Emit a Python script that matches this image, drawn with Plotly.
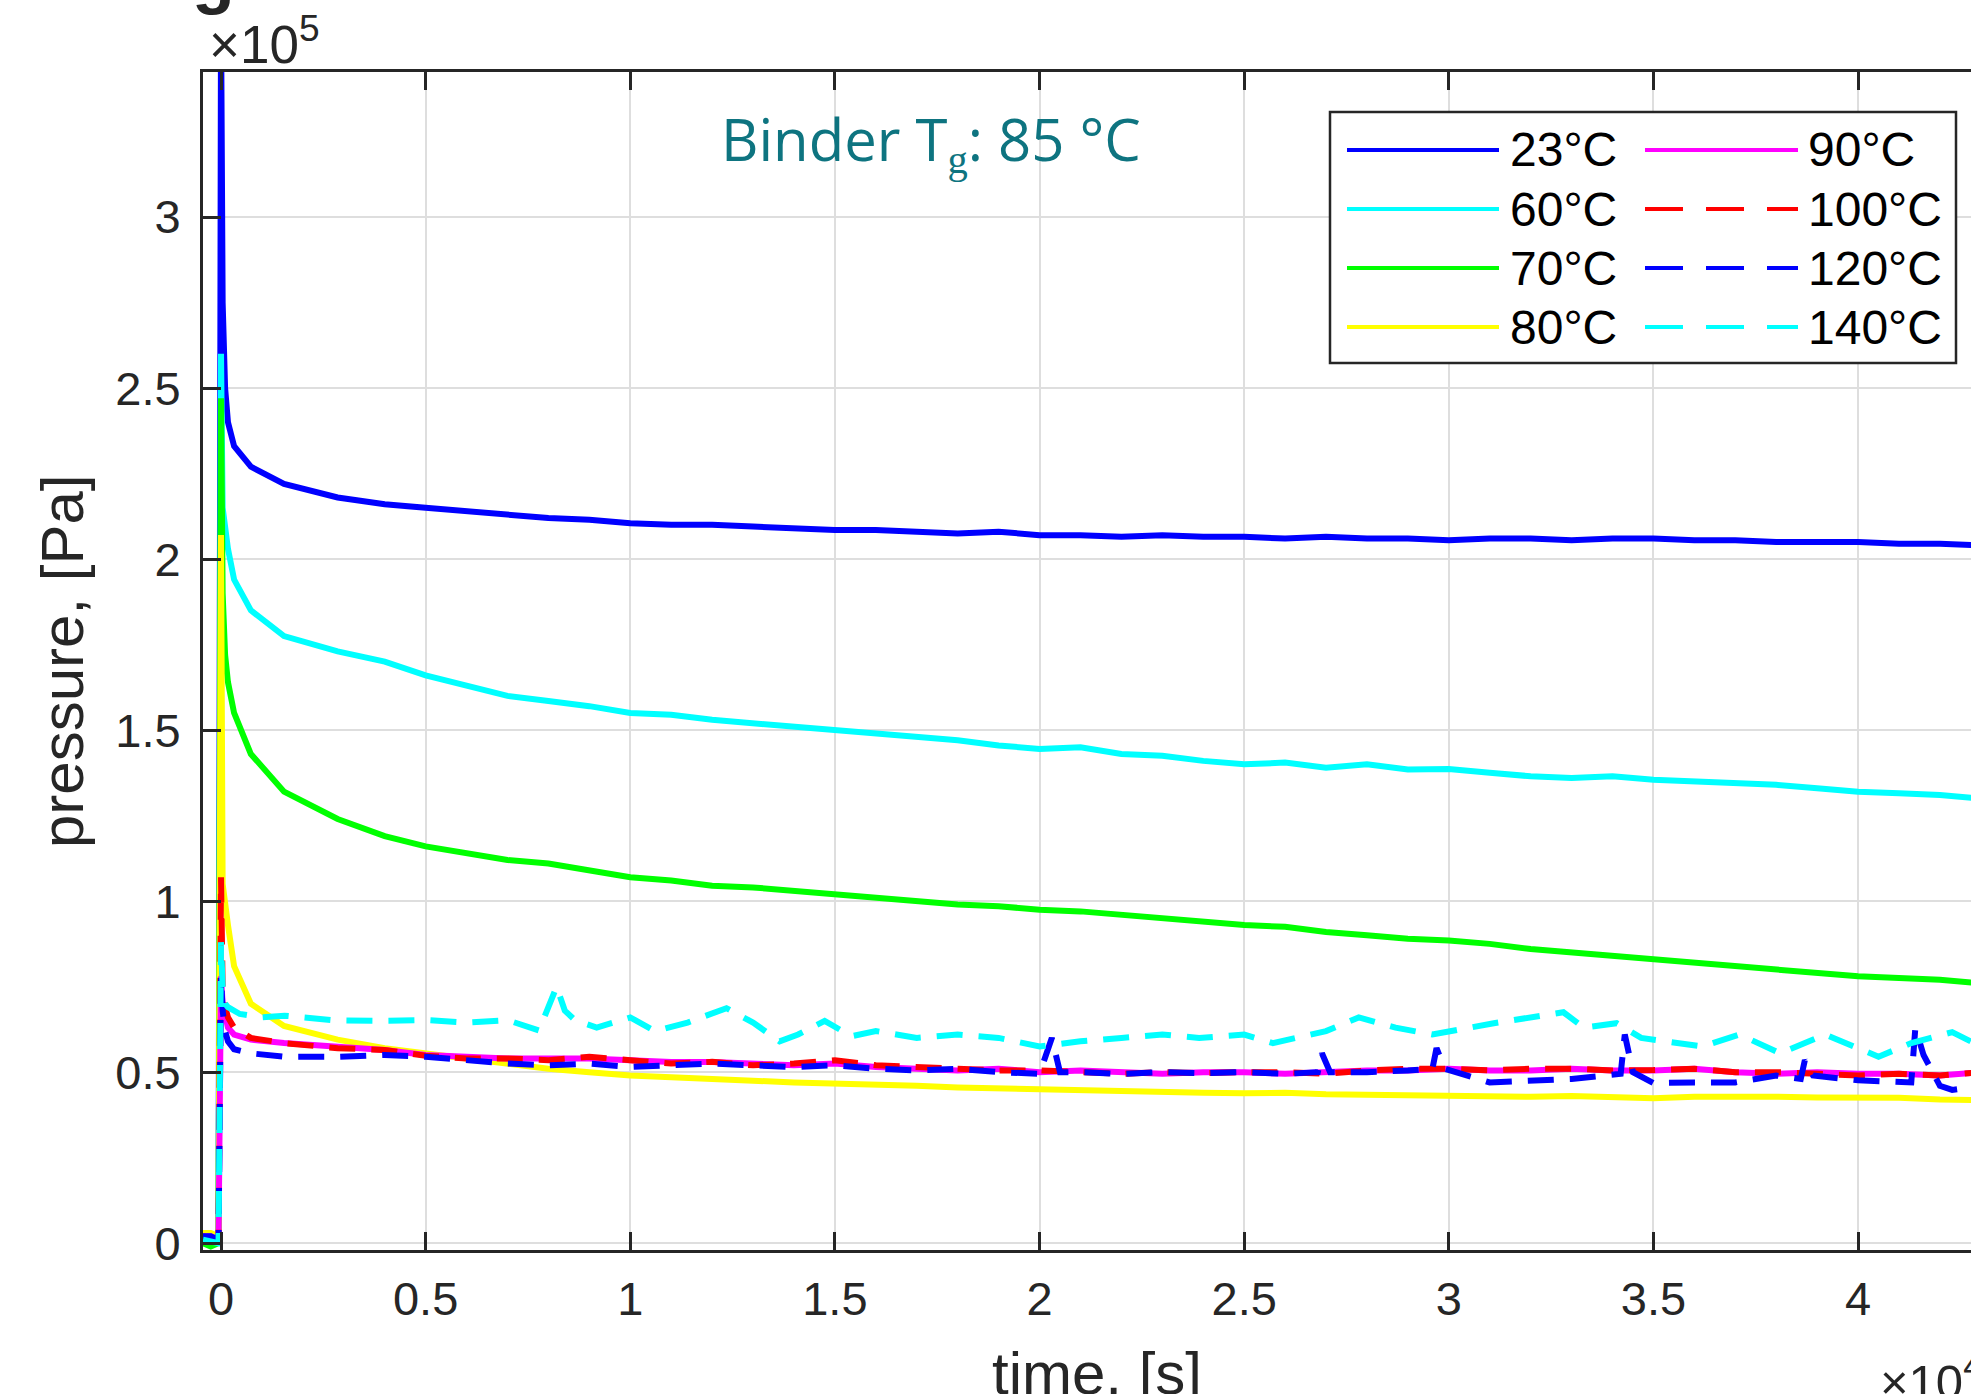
import plotly.graph_objects as go

# time axis in units of 1e4 s, pressure in units of 1e5 Pa (as printed on the axes)
t_base = [-0.044, -0.025, -0.006, 0.0, 0.004, 0.01, 0.017, 0.032, 0.073, 0.154, 0.285,
          0.4, 0.5, 0.6, 0.7, 0.8, 0.9, 1.0, 1.1, 1.2, 1.3, 1.4, 1.5, 1.6, 1.7, 1.8, 1.9,
          2.0, 2.1, 2.2, 2.3, 2.4, 2.5, 2.6, 2.7, 2.8, 2.9, 3.0, 3.1, 3.2, 3.3, 3.4, 3.5,
          3.6, 3.7, 3.8, 3.9, 4.0, 4.1, 4.2, 4.3]

p_23 = [0.01, 0.02, 0.01, 3.6, 2.75, 2.5, 2.40, 2.33, 2.27, 2.22, 2.18,
        2.16, 2.15, 2.14, 2.13, 2.12, 2.115, 2.105, 2.10, 2.10, 2.095, 2.09, 2.085, 2.085, 2.08, 2.075, 2.08,
        2.07, 2.07, 2.065, 2.07, 2.065, 2.065, 2.06, 2.065, 2.06, 2.06, 2.055, 2.06, 2.06, 2.055, 2.06, 2.06,
        2.055, 2.055, 2.05, 2.05, 2.05, 2.045, 2.045, 2.04]

p_60 = [0.01, 0.015, 0.01, 2.60, 2.15, 2.08, 2.03, 1.94, 1.85, 1.775, 1.73,
        1.70, 1.66, 1.63, 1.60, 1.585, 1.57, 1.55, 1.545, 1.53, 1.52, 1.51, 1.50, 1.49, 1.48, 1.47, 1.455,
        1.445, 1.45, 1.43, 1.425, 1.41, 1.40, 1.405, 1.39, 1.40, 1.385, 1.386, 1.375, 1.365, 1.36, 1.365, 1.355,
        1.35, 1.345, 1.34, 1.33, 1.32, 1.315, 1.31, 1.30]

p_70 = [0.0, -0.01, 0.0, 2.47, 1.90, 1.72, 1.64, 1.55, 1.43, 1.32, 1.24,
        1.19, 1.16, 1.14, 1.12, 1.11, 1.09, 1.07, 1.06, 1.045, 1.04, 1.03, 1.02, 1.01, 1.00, 0.99, 0.985,
        0.975, 0.97, 0.96, 0.95, 0.94, 0.93, 0.925, 0.91, 0.90, 0.89, 0.885, 0.875, 0.86, 0.85, 0.84, 0.83,
        0.82, 0.81, 0.80, 0.79, 0.78, 0.775, 0.77, 0.76]

p_80 = [0.03, 0.03, 0.02, 2.07, 1.05, 0.98, 0.93, 0.81, 0.70, 0.635, 0.595,
        0.57, 0.555, 0.54, 0.525, 0.51, 0.50, 0.49, 0.485, 0.478, 0.475, 0.47, 0.468, 0.462, 0.46, 0.455, 0.452,
        0.448, 0.446, 0.444, 0.442, 0.44, 0.438, 0.44, 0.435, 0.433, 0.432, 0.43, 0.43, 0.428, 0.43, 0.428, 0.424,
        0.428, 0.43, 0.428, 0.426, 0.427, 0.425, 0.42, 0.418]

p_90 = [0.02, 0.02, 0.01, 0.78, 0.70, 0.66, 0.63, 0.61, 0.595, 0.585, 0.575,
        0.565, 0.55, 0.545, 0.54, 0.54, 0.54, 0.535, 0.53, 0.53, 0.525, 0.52, 0.525, 0.515, 0.51, 0.505, 0.51,
        0.50, 0.505, 0.50, 0.495, 0.50, 0.50, 0.495, 0.50, 0.505, 0.505, 0.51, 0.505, 0.505, 0.51, 0.505, 0.505,
        0.51, 0.50, 0.495, 0.50, 0.495, 0.495, 0.49, 0.50]

p_100 = [0.02, 0.015, 0.01, 1.07, 0.75, 0.69, 0.66, 0.63, 0.60, 0.585, 0.57,
         0.565, 0.548, 0.54, 0.54, 0.535, 0.545, 0.535, 0.525, 0.53, 0.52, 0.525, 0.535, 0.52, 0.515, 0.51, 0.505,
         0.505, 0.50, 0.495, 0.50, 0.497, 0.50, 0.50, 0.495, 0.505, 0.51, 0.51, 0.505, 0.51, 0.51, 0.505, 0.506,
         0.51, 0.50, 0.50, 0.495, 0.49, 0.495, 0.49, 0.50]

t_120 = [-0.044, -0.025, -0.006, 0.0, 0.004, 0.01, 0.017, 0.032, 0.073, 0.154, 0.285,
         0.4, 0.5, 0.6, 0.7, 0.8, 0.9, 1.0, 1.1, 1.2, 1.3, 1.4, 1.5, 1.6, 1.7, 1.8, 1.9,
         2.0, 2.03, 2.05, 2.1, 2.2, 2.3, 2.4, 2.5, 2.6, 2.68, 2.69, 2.71, 2.8, 2.9,
         2.96, 2.97, 2.99, 3.1, 3.2, 3.3, 3.42, 3.43, 3.45, 3.5, 3.6, 3.7, 3.8,
         3.86, 3.87, 3.89, 4.0, 4.13, 4.14, 4.16, 4.2, 4.23, 4.3]
p_120 = [0.02, 0.02, 0.01, 0.78, 0.68, 0.62, 0.59, 0.567, 0.555, 0.545, 0.545,
         0.55, 0.545, 0.535, 0.525, 0.52, 0.525, 0.515, 0.52, 0.525, 0.52, 0.515, 0.52, 0.51, 0.505, 0.51, 0.50,
         0.495, 0.60, 0.50, 0.50, 0.495, 0.50, 0.497, 0.50, 0.495, 0.50, 0.555, 0.50, 0.50, 0.505,
         0.51, 0.57, 0.51, 0.47, 0.475, 0.48, 0.495, 0.61, 0.50, 0.468, 0.47, 0.47, 0.49,
         0.48, 0.535, 0.49, 0.476, 0.47, 0.63, 0.55, 0.46, 0.448, 0.46]

t_140 = [-0.044, -0.025, -0.006, 0.0, 0.004, 0.01, 0.017, 0.046, 0.1, 0.155, 0.27, 0.375,
         0.505, 0.6, 0.7, 0.777, 0.82, 0.84, 0.865, 0.918, 1.0, 1.06, 1.14, 1.235, 1.30, 1.365,
         1.41, 1.475, 1.54, 1.6, 1.7, 1.8, 1.9, 2.0, 2.1, 2.2, 2.3, 2.39, 2.5, 2.57, 2.7, 2.78,
         2.87, 2.96, 3.11, 3.28, 3.33, 3.41, 3.47, 3.62, 3.71, 3.81, 3.92, 4.05, 4.13, 4.23, 4.3]
p_140 = [0.01, 0.005, 0.0, 0.88, 0.75, 0.70, 0.69, 0.67, 0.66, 0.665, 0.652, 0.65,
         0.652, 0.645, 0.652, 0.622, 0.75, 0.68, 0.652, 0.63, 0.66, 0.62, 0.645, 0.687, 0.645, 0.59,
         0.61, 0.65, 0.605, 0.62, 0.60, 0.61, 0.60, 0.575, 0.59, 0.60, 0.61, 0.60, 0.61, 0.585, 0.62, 0.66,
         0.63, 0.61, 0.643, 0.675, 0.63, 0.643, 0.60, 0.575, 0.61, 0.555, 0.61, 0.545, 0.585, 0.617, 0.575]

labels = ["23°C", "60°C", "70°C", "80°C", "90°C", "100°C", "120°C", "140°C"]
times = [t_base, t_base, t_base, t_base, t_base, t_base, t_120, t_140]
values = [p_23, p_60, p_70, p_80, p_90, p_100, p_120, p_140]
colors = ["#0000ff", "#00ffff", "#00ff00", "#ffff00", "#ff00ff", "#ff0000", "#0000ff", "#00ffff"]
dashes = ["solid", "solid", "solid", "solid", "solid", "dash", "dash", "dash"]

x_tick_vals = [0, 0.5, 1, 1.5, 2, 2.5, 3, 3.5, 4]
x_tick_text = ["0", "0.5", "1", "1.5", "2", "2.5", "3", "3.5", "4"]
y_tick_vals = [0, 0.5, 1, 1.5, 2, 2.5, 3]
y_tick_text = ["0", "0.5", "1", "1.5", "2", "2.5", "3"]

W, H = 1971, 1394
PL, PR, PT, PB = 203, 1971, 72, 1250
AX = "#262626"
FONT = "Liberation Sans, Arial, sans-serif"
DATA_DASH = "26px,16px"
LEG_DASH = "38px,23px"


def fx(p):
    return (p - PL) / (PR - PL)


def fy(p):
    return (PB - p) / (PB - PT)


fig = go.Figure()
for t, v, name, col, d in zip(times, values, labels, colors, dashes):
    fig.add_trace(
        go.Scatter(
            x=t, y=v, mode="lines", name=name, showlegend=False,
            line=dict(color=col, width=6, dash=DATA_DASH if d == "dash" else "solid"),
        )
    )

# legend drawn as a MATLAB style two column box
shapes = [dict(type="rect", xref="paper", yref="paper", x0=fx(1330), x1=fx(1956), y0=fy(363), y1=fy(112),
               fillcolor="white", line=dict(color=AX, width=2.5), layer="above")]
annotations = []
row_y = [150, 209, 268, 327]
col_x = [(1347, 1499, 1508), (1645, 1798, 1806)]
for i, (name, col, d) in enumerate(zip(labels, colors, dashes)):
    c, r = divmod(i, 4)
    x0, x1, xt = col_x[c]
    shapes.append(dict(type="line", xref="paper", yref="paper", x0=fx(x0), x1=fx(x1), y0=fy(row_y[r]), y1=fy(row_y[r]),
                       line=dict(color=col, width=4, dash=LEG_DASH if d == "dash" else "solid"), layer="above"))
    annotations.append(dict(xref="paper", yref="paper", x=fx(xt), y=fy(row_y[r]), xanchor="left", yanchor="middle",
                            text=name, showarrow=False, font=dict(family=FONT, size=48, color="black")))

annotations += [
    dict(xref="paper", yref="paper", x=fx(931), y=fy(140), xanchor="center", yanchor="middle", showarrow=False,
         text="Binder T<sub><span style='font-family:Liberation Serif'>g</span></sub>: 85 °C",
         font=dict(family="Open Sans", size=58, color="#0e7480")),
    dict(xref="paper", yref="paper", x=fx(207), y=fy(76), xanchor="left", yanchor="bottom", showarrow=False,
         text="×10<sup>5</sup>", font=dict(family=FONT, size=53, color=AX)),
    dict(xref="paper", yref="paper", x=fx(1878), y=fy(1345), xanchor="left", yanchor="top", showarrow=False,
         text="×10<sup>4</sup>", font=dict(family=FONT, size=49, color=AX)),
    dict(xref="paper", yref="paper", x=fx(1097), y=fy(1338), xanchor="center", yanchor="top", showarrow=False,
         text="time, [s]", font=dict(family=FONT, size=60, color=AX)),
    dict(xref="paper", yref="paper", x=fx(62), y=fy(661), xanchor="center", yanchor="middle", showarrow=False,
         text="pressure, [Pa]", textangle=-90, font=dict(family=FONT, size=60, color=AX)),
    dict(xref="paper", yref="paper", x=fx(213), y=fy(17), xanchor="center", yanchor="bottom", showarrow=False,
         text="<b>g</b>", font=dict(family=FONT, size=70, color=AX)),
]

fig.update_layout(
    width=W, height=H,
    margin=dict(l=PL, r=W - PR, t=PT, b=H - PB),
    paper_bgcolor="white", plot_bgcolor="white",
    shapes=shapes, annotations=annotations,
    font=dict(family=FONT, color=AX),
)
fig.update_xaxes(
    range=[-0.044, (PR - 220) / 409.5], tickvals=x_tick_vals, ticktext=x_tick_text,
    showgrid=True, gridcolor="#dedede", gridwidth=2, zeroline=False,
    showline=True, linecolor=AX, linewidth=3, mirror="ticks",
    ticks="inside", ticklen=18, tickwidth=3, tickcolor=AX, ticklabelstandoff=6,
    tickfont=dict(family=FONT, size=47, color=AX),
)
fig.update_yaxes(
    range=[-0.02, 3.424], tickvals=y_tick_vals, ticktext=y_tick_text,
    showgrid=True, gridcolor="#dedede", gridwidth=2, zeroline=False,
    showline=True, linecolor=AX, linewidth=3,
    ticks="inside", ticklen=18, tickwidth=3, tickcolor=AX, ticklabelstandoff=10,
    tickfont=dict(family=FONT, size=47, color=AX),
)

fig.write_html("out.html", config={"displayModeBar": False},
               post_script="document.body.style.margin='0';")
